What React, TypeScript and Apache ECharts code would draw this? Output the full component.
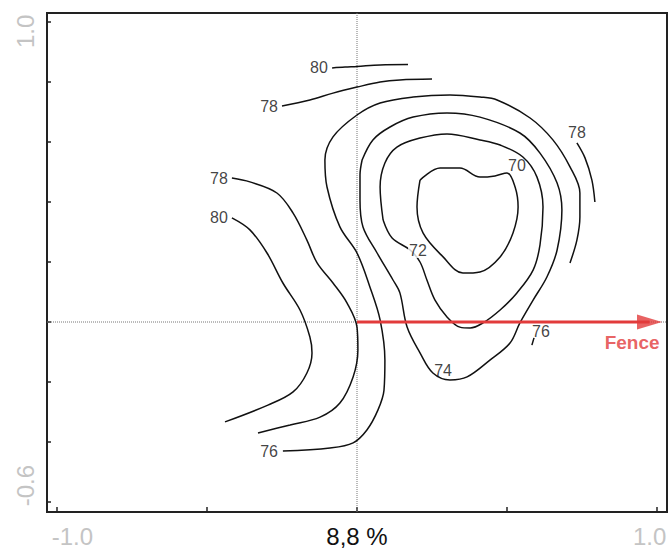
import React, { useEffect, useRef } from 'react';
import * as echarts from 'echarts';

// ---- axis ticks / labels ----
const xLabelValues = [-1.0, 0, 1.0];
const xLabelTexts = ['-1.0', '8,8 %', '1.0'];
const yLabelValues = [1.0, -0.6];
const yLabelTexts = ['1.0', '-0.6'];

// ---- contour lines (x, y) ----
const contour80Top = [[-0.083, 0.847], [-0.04, 0.85], [0, 0.852], [0.077, 0.857], [0.17, 0.858]];
const contour78Top = [[-0.25, 0.72], [-0.157, 0.74], [-0.08, 0.763], [0, 0.783], [0.077, 0.8], [0.143, 0.807], [0.25, 0.81]];
const contour76Outer = [
  [-0.247, -0.43], [-0.09, -0.42], [-0.013, -0.403], [0.033, -0.36], [0.07, -0.293], [0.09, -0.227],
  [0.093, -0.127], [0.077, 0.007], [0.043, 0.117], [0, 0.23], [-0.057, 0.317], [-0.1, 0.45],
  [-0.107, 0.54], [-0.08, 0.617], [0, 0.69], [0.077, 0.73], [0.187, 0.75], [0.31, 0.757],
  [0.41, 0.75], [0.467, 0.74], [0.577, 0.68], [0.653, 0.607], [0.71, 0.517], [0.743, 0.43],
  [0.743, 0.35], [0.733, 0.273], [0.71, 0.197],
];
const contour78Left = [
  [-0.417, 0.48], [-0.357, 0.467], [-0.267, 0.43], [-0.213, 0.363], [-0.167, 0.273], [-0.133, 0.197],
  [-0.08, 0.13], [-0.033, 0.063], [0, -0.017], [0.003, -0.093], [-0.013, -0.183], [-0.057, -0.27],
  [-0.123, -0.317], [-0.223, -0.343], [-0.33, -0.37],
];
const contour80Left = [
  [-0.417, 0.347], [-0.357, 0.307], [-0.3, 0.23], [-0.247, 0.13], [-0.19, 0.04], [-0.157, -0.05],
  [-0.15, -0.103], [-0.167, -0.17], [-0.213, -0.233], [-0.297, -0.277], [-0.44, -0.333],
];
const contour74 = [
  [0.017, 0.54], [0.053, 0.607], [0.11, 0.65], [0.187, 0.683], [0.3, 0.697], [0.41, 0.683],
  [0.543, 0.63], [0.61, 0.563], [0.667, 0.463], [0.683, 0.373], [0.667, 0.24], [0.633, 0.15],
  [0.587, 0.073], [0.543, -0.003], [0.51, -0.07], [0.443, -0.127], [0.367, -0.183], [0.31, -0.193],
  [0.253, -0.17], [0.21, -0.103], [0.167, -0.017], [0.143, 0.097], [0.12, 0.14], [0.067, 0.23],
  [0.02, 0.317], [0.01, 0.407], [0.01, 0.49], [0.017, 0.54],
];
const contour72 = [
  [0.087, 0.34], [0.117, 0.28], [0.177, 0.24], [0.21, 0.2], [0.233, 0.14], [0.26, 0.073],
  [0.3, 0.017], [0.343, -0.017], [0.377, -0.02], [0.42, -0.003], [0.477, 0.04], [0.533, 0.097],
  [0.587, 0.173], [0.61, 0.257], [0.62, 0.383], [0.6, 0.483], [0.553, 0.55], [0.477, 0.59],
  [0.41, 0.607], [0.3, 0.627], [0.21, 0.613], [0.133, 0.583], [0.093, 0.53], [0.077, 0.45],
  [0.087, 0.34],
];
const contour70 = [
  [0.21, 0.473], [0.277, 0.513], [0.343, 0.513], [0.41, 0.483], [0.46, 0.487], [0.5, 0.497],
  [0.527, 0.45], [0.537, 0.383], [0.52, 0.297], [0.477, 0.217], [0.41, 0.167], [0.353, 0.163],
  [0.287, 0.217], [0.22, 0.297], [0.2, 0.383], [0.21, 0.473],
];
const contour78Right = [[0.733, 0.597], [0.76, 0.547], [0.783, 0.473], [0.793, 0.4]];
const contour76Fragment = [[0.59, -0.053], [0.583, -0.077]];

// ---- contour labels ----
const contourLabels = ['80', '78', '78', '80', '76', '72', '70', '78', '74', '76'];
const contourLabelX = [-0.127, -0.293, -0.46, -0.46, -0.293, 0.203, 0.533, 0.733, 0.287, 0.613];
const contourLabelY = [0.847, 0.717, 0.48, 0.35, -0.433, 0.24, 0.523, 0.633, -0.16, -0.033];
const maskedLabels = ['72'];

// ---- reference lines / fence ----
const refX = 0;
const refY = 0;
const fenceStart = [0, 0];
const fenceHead = [0.975, 0];
const fenceLabelPos = [0.917, -0.067];
const fenceText = 'Fence';

const FONT = '"Liberation Sans", Arial, sans-serif';
const GRAY = '#c4c4c4';
const RED = '#e23b3b';
// frame extent around the tick range (frame is drawn a little outside the ticks)
const FX_MIN = -1 - 10 / 300;
const FX_MAX = 1 + 10 / 300;
const FY_MIN = -0.6 - 10 / 300;
const FY_MAX = 1 + 9 / 300;

export default function App() {
  const ref = useRef<HTMLDivElement>(null);
  useEffect(() => {
    if (!ref.current) return;
    const chart = echarts.init(ref.current, null, { renderer: 'svg' });

    const lineSeries = (data: number[][]) => ({
      type: 'line',
      xAxisIndex: 0,
      yAxisIndex: 0,
      data,
      symbol: 'none',
      smooth: 0.35,
      clip: false,
      silent: true,
      z: 3,
      lineStyle: { color: '#111', width: 1.5 },
    });

    const findIdx = (arr: number[], v: number) => arr.findIndex((t) => Math.abs(t - v) < 1e-6);

    const option: any = {
      animation: false,
      backgroundColor: '#fff',
      grid: [
        { left: 57, top: 22, width: 600, height: 480, show: false },
        { left: 47, top: 13, width: 620, height: 499, show: true, borderColor: '#222', borderWidth: 2, backgroundColor: 'transparent', z: 1 },
      ],
      xAxis: [
        {
          type: 'value', gridIndex: 0, min: -1, max: 1, interval: 0.5, offset: 10, position: 'bottom',
          axisLine: { show: false, onZero: false },
          axisTick: { show: true, inside: true, length: 5, lineStyle: { color: '#222', width: 1.5 } },
          splitLine: { show: false },
          axisLabel: {
            show: true, margin: 12, alignMinLabel: 'left', alignMaxLabel: 'right',
            formatter: (v: number) => {
              const i = findIdx(xLabelValues, v);
              if (i < 0) return '';
              const s = i === 0 ? 'a' : i === 1 ? 'k' : 'b';
              return `{${s}|${xLabelTexts[i]}}`;
            },
            rich: {
              a: { fontFamily: FONT, fontSize: 24, color: GRAY, width: 36, align: 'right' },
              k: { fontFamily: FONT, fontSize: 24, color: '#111' },
              b: { fontFamily: FONT, fontSize: 24, color: GRAY, width: 24, align: 'left' },
            },
          },
        },
        { type: 'value', gridIndex: 1, show: false, min: FX_MIN, max: FX_MAX, axisLine: { onZero: false } },
      ],
      yAxis: [
        {
          type: 'value', gridIndex: 0, min: -0.6, max: 1, interval: 0.2, offset: 10, position: 'left',
          axisLine: { show: false, onZero: false },
          axisTick: { show: true, inside: true, length: 4, lineStyle: { color: '#222', width: 1.5 } },
          splitLine: { show: false },
          axisLabel: {
            show: true, rotate: 90, margin: 10, alignMinLabel: 'left', alignMaxLabel: 'right',
            formatter: (v: number) => {
              const i = findIdx(yLabelValues, v);
              if (i < 0) return '';
              return `{${i === 0 ? 'c' : 'd'}|${yLabelTexts[i]}}`;
            },
            rich: {
              c: { fontFamily: FONT, fontSize: 24, color: GRAY, width: 26, align: 'left' },
              d: { fontFamily: FONT, fontSize: 24, color: GRAY, width: 37, align: 'right' },
            },
          },
        },
        { type: 'value', gridIndex: 1, show: false, min: FY_MIN, max: FY_MAX, axisLine: { onZero: false } },
      ],
      series: [
        {
          type: 'line', xAxisIndex: 1, yAxisIndex: 1, symbol: 'none', silent: true, z: 2,
          data: [[refX, FY_MIN], [refX, FY_MAX]],
          lineStyle: { color: '#777', width: 1, type: 'dotted' },
        },
        {
          type: 'line', xAxisIndex: 1, yAxisIndex: 1, symbol: 'none', silent: true, z: 2,
          data: [[FX_MIN, refY], [FX_MAX, refY]],
          lineStyle: { color: '#777', width: 1, type: 'dotted' },
        },
        lineSeries(contour80Top),
        lineSeries(contour78Top),
        lineSeries(contour76Outer),
        lineSeries(contour78Left),
        lineSeries(contour80Left),
        lineSeries(contour74),
        lineSeries(contour72),
        lineSeries(contour70),
        lineSeries(contour78Right),
        lineSeries(contour76Fragment),
        {
          type: 'line', xAxisIndex: 0, yAxisIndex: 0, symbol: 'none', clip: false, silent: true, z: 5,
          data: [fenceStart, fenceHead],
          lineStyle: { color: RED, width: 3 },
        },
        {
          type: 'scatter', xAxisIndex: 0, yAxisIndex: 0, clip: false, silent: true, z: 6,
          data: [fenceHead],
          symbol: 'triangle', symbolRotate: -90, symbolSize: [15, 25],
          itemStyle: { color: RED },
        },
        {
          type: 'scatter', xAxisIndex: 0, yAxisIndex: 0, clip: false, silent: true, z: 7,
          data: [fenceLabelPos],
          symbolSize: 0,
          label: {
            show: true, position: 'inside', formatter: () => fenceText,
            fontFamily: FONT, fontSize: 19, fontWeight: 'bold', color: RED,
          },
        },
        {
          type: 'scatter', xAxisIndex: 0, yAxisIndex: 0, clip: false, silent: true, z: 8,
          data: contourLabels.map((t, i) => {
            const item: any = { value: [contourLabelX[i], contourLabelY[i]] };
            if (maskedLabels.includes(t)) item.label = { backgroundColor: '#fff', padding: [0, 1] };
            return item;
          }),
          symbolSize: 0,
          label: {
            show: true, position: 'inside',
            formatter: (p: any) => contourLabels[p.dataIndex],
            fontFamily: FONT, fontSize: 16, color: '#111',
          },
        },
      ],
    };
    chart.setOption(option);
    return () => chart.dispose();
  }, []);
  return (
    <div
      ref={ref}
      style={{ position: 'fixed', left: 0, top: 0, width: 670, height: 549, background: '#fff' }}
    />
  );
}
